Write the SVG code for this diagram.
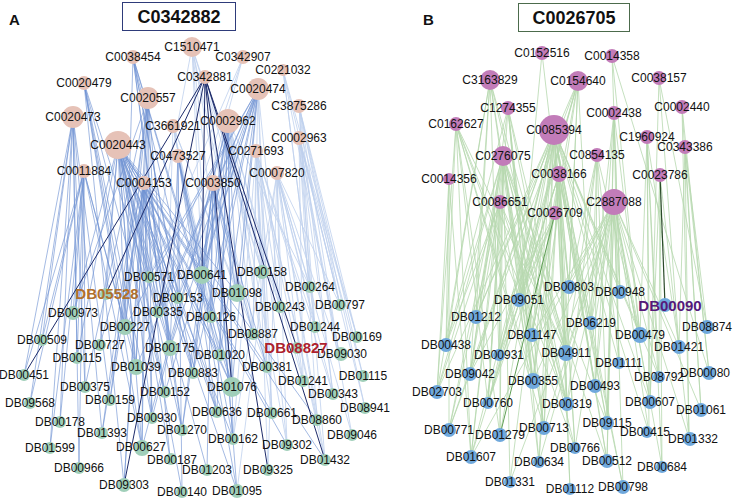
<svg xmlns="http://www.w3.org/2000/svg" width="736" height="501" viewBox="0 0 736 501">
<style>
text{font-family:"Liberation Sans",Arial,sans-serif;font-size:12px;fill:#111;text-anchor:middle}
.ca circle{fill:#e6c2b7}
.da circle{fill:#a0cfb9}
.cb circle{fill:#c27cb9}
.db circle{fill:#6fa8dc}
.em{font-weight:bold;font-size:15px}
.ttl{font-weight:bold;font-size:18px}
.pl{font-weight:bold;font-size:15px;text-anchor:start}
path{fill:none}
.e1{stroke:#bfd1ee;stroke-width:.8}
.e2{stroke:#6f93d3;stroke-width:.8;stroke-opacity:.8}
.e3{stroke:#1d2b6a;stroke-width:1}
.g1{stroke:#b6d8ae;stroke-width:.8}
.g2{stroke:#5f9e55;stroke-width:1}
.g3{stroke:#2b4a2a;stroke-width:1.2}
</style>
<rect width="736" height="501" fill="#fff"/>
<g id="labels">
<text class="pl" x="9" y="25">A</text>
<text class="pl" x="423" y="25">B</text>
<rect x="122.5" y="2.5" width="113" height="28" fill="#fff" stroke="#2e3b7a" stroke-width="1"/>
<text class="ttl" x="179" y="23">C0342882</text>
<rect x="518.5" y="3.5" width="111" height="28" fill="#fff" stroke="#4c6b4c" stroke-width="1"/>
<text class="ttl" x="574" y="24">C0026705</text>
</g>
<g id="connectors">
<path class="e1" d="M173 126L202 275M173 126L237 293M173 126L211 317M173 126L220 355M173 126L232 387M173 126L267 367M173 126L165 392"/>
<path class="e1" d="M192 47L202 275M192 47L237 293M192 47L262 272M192 47L211 317M192 47L253 334M192 47L232 387M192 47L280 307M192 47L149 277"/>
<path class="e1" d="M243 57L178 298M243 57L149 277M243 57L158 312"/>
<path class="e1" d="M283 70L310 287M283 70L340 305M283 70L315 327M283 70L339 353M283 70L357 337"/>
<path class="e1" d="M258 89L280 307M258 89L253 334M258 89L267 367M258 89L272 413"/>
<path class="e1" d="M228 121L262 272M228 121L272 413M228 121L267 367M228 121L253 334M228 121L280 307M228 121L310 287M228 121L303 381M228 121L287 445"/>
<path class="e1" d="M299 106L310 287M299 106L340 305M299 106L315 327M299 106L339 353M299 106L357 337M299 106L363 376M299 106L333 394M299 106L365 408"/>
<path class="e1" d="M299 138L340 305M299 138L339 353M299 138L357 337M299 138L363 376M299 138L365 408M299 138L352 435M299 138L333 394M299 138L303 381M299 138L317 420M299 138L325 460"/>
<path class="e1" d="M256 151L262 272M256 151L280 307M256 151L315 327M256 151L253 334M256 151L267 367M256 151L303 381M256 151L272 413M256 151L287 445M256 151L317 420M256 151L325 460M256 151L333 394M256 151L268 470M256 151L233 439"/>
<path class="e1" d="M277 173L310 287M277 173L280 307M277 173L315 327M277 173L340 305M277 173L339 353M277 173L303 381M277 173L333 394M277 173L317 420M277 173L352 435M277 173L325 460M277 173L287 445M277 173L268 470M277 173L233 439M277 173L237 491"/>
<path class="e1" d="M205 77L237 293M205 77L262 272"/>
<path class="e2" d="M73 117L24 375M73 117L30 403M73 117L42 340M73 117L77 358M73 117L85 387M73 117L60 422M73 117L50 448M73 117L110 400M73 117L102 433M73 117L79 468"/>
<path class="e2" d="M84 83L125 327M84 83L136 367M84 83L170 348M84 83L142 448M84 83L152 418M84 83L124 485M84 83L165 392"/>
<path class="e2" d="M133 57L178 298M133 57L170 348M133 57L220 355M133 57L193 373M133 57L232 387M133 57L217 412M133 57L182 430M133 57L125 327"/>
<path class="e2" d="M148 98L73 313M148 98L125 327M148 98L136 367M148 98L142 448M148 98L158 312M148 98L170 348M148 98L110 400M148 98L124 485M148 98L152 418M148 98L102 433M148 98L85 387"/>
<path class="e2" d="M118 145L106 294M118 145L73 313M118 145L125 327M118 145L100 345M118 145L77 358M118 145L136 367M118 145L158 312M118 145L178 298M118 145L170 348M118 145L220 355M118 145L193 373M118 145L232 387M118 145L165 392M118 145L152 418M118 145L142 448M118 145L217 412M118 145L272 413M118 145L233 439M118 145L287 445M118 145L182 430M118 145L170 458M118 145L207 470M118 145L325 460M118 145L317 420M118 145L267 367M118 145L237 293M118 145L202 275M118 145L149 277M118 145L237 491M118 145L182 492"/>
<path class="e2" d="M84 171L24 375M84 171L42 340M84 171L73 313M84 171L77 358M84 171L85 387M84 171L30 403M84 171L60 422M84 171L50 448M84 171L125 327M84 171L136 367M84 171L142 448M84 171L79 468"/>
<path class="e2" d="M144 183L149 277M144 183L125 327M144 183L136 367M144 183L170 348M144 183L142 448M144 183L152 418M144 183L110 400M144 183L124 485M144 183L170 458M144 183L182 430M144 183L193 373M144 183L232 387M144 183L217 412M144 183L100 345M144 183L102 433"/>
<path class="e2" d="M178 156L178 298M178 156L202 275M178 156L170 348M178 156L232 387M178 156L217 412M178 156L233 439M178 156L237 491M178 156L182 492"/>
<path class="e2" d="M213 183L202 275M213 183L237 293M213 183L211 317M213 183L232 387M213 183L233 439M213 183L207 470M213 183L237 491M213 183L193 373M213 183L267 367M213 183L253 334M213 183L182 430"/>
<path class="e2" d="M258 89L202 275M258 89L237 293M258 89L178 298M258 89L211 317M258 89L170 348M258 89L220 355M258 89L193 373M258 89L149 277M258 89L158 312M258 89L165 392M258 89L125 327M258 89L136 367M258 89L232 387"/>
<path class="e2" d="M228 121L202 275M228 121L237 293M228 121L211 317M228 121L220 355M228 121L193 373M228 121L232 387M228 121L217 412M228 121L233 439M228 121L182 430M228 121L152 418M228 121L142 448"/>
<path class="e3" d="M205 77L24 375M205 77L106 294M205 77L124 485M205 77L202 275M205 77L232 387M205 77L268 470M205 77L297 348M205 77L325 460"/>
<path class="g1" d="M542 53L519 300M542 53L569 287"/>
<path class="g1" d="M612 56L620 292M612 56L709 373M612 56L640 335"/>
<path class="g1" d="M490 80L446 345M490 80L476 317M490 80L470 374M490 80L499 355M490 80L566 353M490 80L533 381M490 80L567 404M490 80L544 428M490 80L437 392"/>
<path class="g1" d="M578 81L476 317M578 81L519 300M578 81L532 335M578 81L499 355M578 81L569 287M578 81L566 353M578 81L533 381M578 81L591 323M578 81L488 403M578 81L449 430"/>
<path class="g1" d="M659 78L650 402M659 78L679 347M659 78L707 327"/>
<path class="g1" d="M508 108L446 345M508 108L470 374M508 108L488 403M508 108L532 335M508 108L533 381M508 108L544 428M508 108L566 353M508 108L567 404M508 108L539 462"/>
<path class="g1" d="M682 107L689 438M682 107L701 410M682 107L709 373"/>
<path class="g1" d="M614 113L620 292M614 113L591 323M614 113L640 335M614 113L619 363M614 113L595 386M614 113L607 423M614 113L607 461"/>
<path class="g1" d="M456 124L437 392M456 124L446 345M456 124L488 403M456 124L500 435M456 124L533 381M456 124L566 353M456 124L567 404M456 124L544 428M456 124L575 448M456 124L471 457"/>
<path class="g1" d="M554 130L519 300M554 130L476 317M554 130L569 287M554 130L620 292M554 130L591 323M554 130L532 335M554 130L640 335M554 130L566 353M554 130L499 355M554 130L619 363M554 130L533 381M554 130L595 386M554 130L567 404M554 130L607 423M554 130L544 428M554 130L575 448M554 130L607 461M554 130L539 462M554 130L570 489M554 130L623 487M554 130L471 457M554 130L437 392M554 130L449 430M554 130L500 435M554 130L488 403M554 130L470 374M554 130L650 402M554 130L659 377M554 130L649 433M554 130L510 482"/>
<path class="g1" d="M647 137L640 335M647 137L679 347M647 137L659 377M647 137L650 402M647 137L649 433M647 137L662 467"/>
<path class="g1" d="M685 147L707 327M685 147L679 347M685 147L709 373M685 147L701 410M685 147L689 438"/>
<path class="g1" d="M503 156L476 317M503 156L446 345M503 156L470 374M503 156L437 392M503 156L449 430M503 156L488 403M503 156L500 435M503 156L471 457M503 156L499 355M503 156L532 335M503 156L533 381M503 156L566 353M503 156L567 404M503 156L544 428M503 156L539 462M503 156L510 482M503 156L575 448M503 156L607 461M503 156L607 423"/>
<path class="g1" d="M597 155L569 287M597 155L591 323M597 155L640 335M597 155L566 353M597 155L619 363M597 155L595 386M597 155L567 404M597 155L607 423"/>
<path class="g1" d="M559 174L519 300M559 174L569 287M559 174L532 335M559 174L566 353M559 174L533 381M559 174L595 386M559 174L567 404M559 174L544 428M559 174L575 448M559 174L607 461M559 174L607 423M559 174L570 489M559 174L539 462M559 174L623 487M559 174L471 457M559 174L488 403"/>
<path class="g1" d="M449 179L446 345M449 179L437 392M449 179L449 430M449 179L471 457"/>
<path class="g1" d="M660 175L659 377M660 175L650 402M660 175L662 467M660 175L689 438"/>
<path class="g1" d="M500 202L446 345M500 202L470 374M500 202L437 392M500 202L488 403M500 202L449 430M500 202L500 435M500 202L471 457M500 202L533 381M500 202L566 353M500 202L567 404"/>
<path class="g1" d="M614 202L569 287M614 202L620 292M614 202L591 323M614 202L532 335M614 202L640 335M614 202L679 347M614 202L566 353M614 202L619 363M614 202L659 377M614 202L533 381M614 202L595 386M614 202L567 404M614 202L650 402M614 202L607 423M614 202L649 433M614 202L544 428M614 202L575 448M614 202L607 461M614 202L623 487M614 202L662 467M614 202L701 410M614 202L689 438M614 202L471 457M614 202L510 482M614 202L539 462"/>
<path class="g1" d="M555 213L519 300M555 213L532 335M555 213L499 355M555 213L488 403M555 213L470 374"/>
<path class="g2" d="M555 213L500 435"/>
<path class="g3" d="M660 175L665 305"/>
</g>
<g id="nodesA">
<g id="C1510471" class="ca"><circle cx="192" cy="47" r="10"/><text x="192" y="51">C1510471</text></g>
<g id="C0038454" class="ca"><circle cx="133" cy="57" r="7"/><text x="133" y="61">C0038454</text></g>
<g id="C0342907" class="ca"><circle cx="243" cy="57" r="7"/><text x="243" y="61">C0342907</text></g>
<g id="C0221032" class="ca"><circle cx="283" cy="70" r="6"/><text x="283" y="74">C0221032</text></g>
<g id="C0342881" class="ca"><circle cx="205" cy="77" r="7"/><text x="205" y="81">C0342881</text></g>
<g id="C0020479" class="ca"><circle cx="84" cy="83" r="7"/><text x="84" y="87">C0020479</text></g>
<g id="C0020474" class="ca"><circle cx="258" cy="89" r="11"/><text x="258" y="93">C0020474</text></g>
<g id="C0020557" class="ca"><circle cx="148" cy="98" r="11"/><text x="148" y="102">C0020557</text></g>
<g id="C3875286" class="ca"><circle cx="299" cy="106" r="7"/><text x="299" y="110">C3875286</text></g>
<g id="C0020473" class="ca"><circle cx="73" cy="117" r="11"/><text x="73" y="121">C0020473</text></g>
<g id="C3661921" class="ca"><circle cx="173" cy="126" r="7"/><text x="173" y="130">C3661921</text></g>
<g id="C0002962" class="ca"><circle cx="228" cy="121" r="12"/><text x="228" y="125">C0002962</text></g>
<g id="C0002963" class="ca"><circle cx="299" cy="138" r="7"/><text x="299" y="142">C0002963</text></g>
<g id="C0020443" class="ca"><circle cx="118" cy="145" r="14"/><text x="118" y="149">C0020443</text></g>
<g id="C0271693" class="ca"><circle cx="256" cy="151" r="7"/><text x="256" y="155">C0271693</text></g>
<g id="C0473527" class="ca"><circle cx="178" cy="156" r="7"/><text x="178" y="160">C0473527</text></g>
<g id="C0011884" class="ca"><circle cx="84" cy="171" r="7"/><text x="84" y="175">C0011884</text></g>
<g id="C0007820" class="ca"><circle cx="277" cy="173" r="7"/><text x="277" y="177">C0007820</text></g>
<g id="C0004153" class="ca"><circle cx="144" cy="183" r="7"/><text x="144" y="187">C0004153</text></g>
<g id="C0003850" class="ca"><circle cx="213" cy="183" r="8"/><text x="213" y="187">C0003850</text></g>
<g id="DB00571" class="da"><circle cx="149" cy="277" r="6"/><text x="149" y="281">DB00571</text></g>
<g id="DB00641" class="da"><circle cx="202" cy="275" r="9"/><text x="202" y="279">DB00641</text></g>
<g id="DB00158" class="da"><circle cx="262" cy="272" r="7"/><text x="262" y="276">DB00158</text></g>
<g id="DB01098" class="da"><circle cx="237" cy="293" r="9"/><text x="237" y="297">DB01098</text></g>
<g id="DB00264" class="da"><circle cx="310" cy="287" r="6"/><text x="310" y="291">DB00264</text></g>
<g id="DB00153" class="da"><circle cx="178" cy="298" r="6"/><text x="178" y="302">DB00153</text></g>
<g id="DB00797" class="da"><circle cx="340" cy="305" r="6"/><text x="340" y="309">DB00797</text></g>
<g id="DB00243" class="da"><circle cx="280" cy="307" r="6"/><text x="280" y="311">DB00243</text></g>
<g id="DB00973" class="da"><circle cx="73" cy="313" r="7"/><text x="73" y="317">DB00973</text></g>
<g id="DB00335" class="da"><circle cx="158" cy="312" r="6"/><text x="158" y="316">DB00335</text></g>
<g id="DB00126" class="da"><circle cx="211" cy="317" r="6"/><text x="211" y="321">DB00126</text></g>
<g id="DB00227" class="da"><circle cx="125" cy="327" r="8"/><text x="125" y="331">DB00227</text></g>
<g id="DB01244" class="da"><circle cx="315" cy="327" r="6"/><text x="315" y="331">DB01244</text></g>
<g id="DB08887" class="da"><circle cx="253" cy="334" r="6"/><text x="253" y="338">DB08887</text></g>
<g id="DB00509" class="da"><circle cx="42" cy="340" r="6"/><text x="42" y="344">DB00509</text></g>
<g id="DB00727" class="da"><circle cx="100" cy="345" r="6"/><text x="100" y="349">DB00727</text></g>
<g id="DB00175" class="da"><circle cx="170" cy="348" r="8"/><text x="170" y="352">DB00175</text></g>
<g id="DB00169" class="da"><circle cx="357" cy="337" r="6"/><text x="357" y="341">DB00169</text></g>
<g id="DB01020" class="da"><circle cx="220" cy="355" r="6"/><text x="220" y="359">DB01020</text></g>
<g id="DB09030" class="da"><circle cx="341" cy="354" r="7"/><text x="342" y="358">DB09030</text></g>
<g id="DB00115" class="da"><circle cx="77" cy="358" r="6"/><text x="77" y="362">DB00115</text></g>
<g id="DB01039" class="da"><circle cx="136" cy="367" r="8"/><text x="136" y="371">DB01039</text></g>
<g id="DB00381" class="da"><circle cx="267" cy="367" r="6"/><text x="267" y="371">DB00381</text></g>
<g id="DB00451" class="da"><circle cx="24" cy="375" r="6"/><text x="24" y="379">DB00451</text></g>
<g id="DB00883" class="da"><circle cx="193" cy="373" r="6"/><text x="193" y="377">DB00883</text></g>
<g id="DB01115" class="da"><circle cx="363" cy="376" r="6"/><text x="363" y="380">DB01115</text></g>
<g id="DB01241" class="da"><circle cx="303" cy="381" r="6"/><text x="303" y="385">DB01241</text></g>
<g id="DB00375" class="da"><circle cx="85" cy="387" r="6"/><text x="85" y="391">DB00375</text></g>
<g id="DB01076" class="da"><circle cx="232" cy="387" r="10"/><text x="232" y="391">DB01076</text></g>
<g id="DB00152" class="da"><circle cx="165" cy="392" r="6"/><text x="165" y="396">DB00152</text></g>
<g id="DB00343" class="da"><circle cx="333" cy="394" r="6"/><text x="333" y="398">DB00343</text></g>
<g id="DB00159" class="da"><circle cx="110" cy="400" r="6"/><text x="110" y="404">DB00159</text></g>
<g id="DB09568" class="da"><circle cx="30" cy="403" r="6"/><text x="30" y="407">DB09568</text></g>
<g id="DB08941" class="da"><circle cx="365" cy="408" r="6"/><text x="365" y="412">DB08941</text></g>
<g id="DB00930" class="da"><circle cx="152" cy="418" r="6"/><text x="152" y="422">DB00930</text></g>
<g id="DB00636" class="da"><circle cx="217" cy="412" r="6"/><text x="217" y="416">DB00636</text></g>
<g id="DB00661" class="da"><circle cx="272" cy="413" r="6"/><text x="272" y="417">DB00661</text></g>
<g id="DB08860" class="da"><circle cx="317" cy="420" r="6"/><text x="317" y="424">DB08860</text></g>
<g id="DB00178" class="da"><circle cx="60" cy="422" r="6"/><text x="60" y="426">DB00178</text></g>
<g id="DB01270" class="da"><circle cx="182" cy="430" r="6"/><text x="182" y="434">DB01270</text></g>
<g id="DB01393" class="da"><circle cx="102" cy="433" r="6"/><text x="102" y="437">DB01393</text></g>
<g id="DB09046" class="da"><circle cx="352" cy="435" r="6"/><text x="352" y="439">DB09046</text></g>
<g id="DB00162" class="da"><circle cx="233" cy="439" r="6"/><text x="233" y="443">DB00162</text></g>
<g id="DB09302" class="da"><circle cx="287" cy="445" r="6"/><text x="287" y="449">DB09302</text></g>
<g id="DB00627" class="da"><circle cx="142" cy="448" r="8"/><text x="141" y="451">DB00627</text></g>
<g id="DB01599" class="da"><circle cx="50" cy="448" r="6"/><text x="50" y="452">DB01599</text></g>
<g id="DB00187" class="da"><circle cx="171" cy="459" r="6"/><text x="172" y="464">DB00187</text></g>
<g id="DB01432" class="da"><circle cx="325" cy="460" r="6"/><text x="325" y="464">DB01432</text></g>
<g id="DB00966" class="da"><circle cx="79" cy="468" r="6"/><text x="79" y="472">DB00966</text></g>
<g id="DB01203" class="da"><circle cx="207" cy="470" r="6"/><text x="207" y="474">DB01203</text></g>
<g id="DB09325" class="da"><circle cx="268" cy="470" r="6"/><text x="268" y="474">DB09325</text></g>
<g id="DB09303" class="da"><circle cx="124" cy="485" r="7"/><text x="124" y="489">DB09303</text></g>
<g id="DB00140" class="da"><circle cx="182" cy="492" r="6"/><text x="182" y="496">DB00140</text></g>
<g id="DB01095" class="da"><circle cx="237" cy="491" r="7"/><text x="237" y="495">DB01095</text></g>
<g id="DB05528" class="da"><circle cx="106" cy="294" r="6"/><text class="em" x="107" y="299" style="fill:#b06f2c">DB05528</text></g>
<g id="DB08827" class="da"><circle cx="297" cy="348" r="6"/><text class="em" x="296" y="353" style="fill:#ae1f2e">DB08827</text></g>
</g>
<g id="nodesB">
<g id="C0152516" class="cb"><circle cx="542" cy="53" r="7"/><text x="542" y="57">C0152516</text></g>
<g id="C0014358" class="cb"><circle cx="612" cy="56" r="7"/><text x="612" y="60">C0014358</text></g>
<g id="C3163829" class="cb"><circle cx="490" cy="80" r="10"/><text x="490" y="84">C3163829</text></g>
<g id="C0154640" class="cb"><circle cx="578" cy="81" r="10"/><text x="578" y="85">C0154640</text></g>
<g id="C0038157" class="cb"><circle cx="659" cy="78" r="7"/><text x="659" y="82">C0038157</text></g>
<g id="C1274355" class="cb"><circle cx="508" cy="108" r="7"/><text x="508" y="112">C1274355</text></g>
<g id="C0002440" class="cb"><circle cx="682" cy="107" r="7"/><text x="682" y="111">C0002440</text></g>
<g id="C0002438" class="cb"><circle cx="614" cy="113" r="7"/><text x="614" y="117">C0002438</text></g>
<g id="C0162627" class="cb"><circle cx="456" cy="124" r="7"/><text x="456" y="128">C0162627</text></g>
<g id="C0085394" class="cb"><circle cx="554" cy="130" r="15"/><text x="554" y="134">C0085394</text></g>
<g id="C1960924" class="cb"><circle cx="647" cy="137" r="7"/><text x="647" y="141">C1960924</text></g>
<g id="C0343386" class="cb"><circle cx="685" cy="147" r="7"/><text x="685" y="151">C0343386</text></g>
<g id="C0276075" class="cb"><circle cx="503" cy="156" r="10"/><text x="503" y="160">C0276075</text></g>
<g id="C0854135" class="cb"><circle cx="597" cy="155" r="7"/><text x="597" y="159">C0854135</text></g>
<g id="C0038166" class="cb"><circle cx="559" cy="174" r="8"/><text x="559" y="178">C0038166</text></g>
<g id="C0014356" class="cb"><circle cx="449" cy="179" r="6"/><text x="449" y="183">C0014356</text></g>
<g id="C0023786" class="cb"><circle cx="660" cy="175" r="7"/><text x="660" y="179">C0023786</text></g>
<g id="C0086651" class="cb"><circle cx="500" cy="202" r="7"/><text x="500" y="206">C0086651</text></g>
<g id="C2887088" class="cb"><circle cx="614" cy="202" r="13"/><text x="614" y="206">C2887088</text></g>
<g id="C0026709" class="cb"><circle cx="555" cy="213" r="7"/><text x="555" y="217">C0026709</text></g>
<g id="DB00803" class="db"><circle cx="569" cy="287" r="7"/><text x="569" y="291">DB00803</text></g>
<g id="DB00948" class="db"><circle cx="620" cy="292" r="7"/><text x="620" y="296">DB00948</text></g>
<g id="DB09051" class="db"><circle cx="519" cy="300" r="7"/><text x="519" y="304">DB09051</text></g>
<g id="DB01212" class="db"><circle cx="476" cy="317" r="7"/><text x="476" y="321">DB01212</text></g>
<g id="DB06219" class="db"><circle cx="591" cy="323" r="7"/><text x="591" y="327">DB06219</text></g>
<g id="DB08874" class="db"><circle cx="707" cy="327" r="7"/><text x="707" y="331">DB08874</text></g>
<g id="DB01147" class="db"><circle cx="532" cy="335" r="7"/><text x="532" y="339">DB01147</text></g>
<g id="DB00479" class="db"><circle cx="640" cy="335" r="8"/><text x="640" y="339">DB00479</text></g>
<g id="DB00438" class="db"><circle cx="446" cy="345" r="7"/><text x="446" y="349">DB00438</text></g>
<g id="DB01421" class="db"><circle cx="679" cy="347" r="7"/><text x="679" y="351">DB01421</text></g>
<g id="DB04911" class="db"><circle cx="566" cy="353" r="8"/><text x="566" y="357">DB04911</text></g>
<g id="DB00931" class="db"><circle cx="499" cy="355" r="6"/><text x="499" y="359">DB00931</text></g>
<g id="DB01111" class="db"><circle cx="619" cy="363" r="6"/><text x="619" y="367">DB01111</text></g>
<g id="DB09042" class="db"><circle cx="470" cy="374" r="7"/><text x="470" y="378">DB09042</text></g>
<g id="DB00080" class="db"><circle cx="709" cy="373" r="7"/><text x="705" y="377">DB00080</text></g>
<g id="DB08792" class="db"><circle cx="659" cy="377" r="6"/><text x="659" y="381">DB08792</text></g>
<g id="DB00355" class="db"><circle cx="533" cy="381" r="8"/><text x="533" y="385">DB00355</text></g>
<g id="DB00493" class="db"><circle cx="595" cy="386" r="7"/><text x="595" y="390">DB00493</text></g>
<g id="DB02703" class="db"><circle cx="437" cy="392" r="7"/><text x="437" y="396">DB02703</text></g>
<g id="DB00760" class="db"><circle cx="488" cy="403" r="6"/><text x="488" y="407">DB00760</text></g>
<g id="DB00319" class="db"><circle cx="567" cy="404" r="7"/><text x="567" y="408">DB00319</text></g>
<g id="DB00607" class="db"><circle cx="650" cy="402" r="7"/><text x="650" y="406">DB00607</text></g>
<g id="DB01061" class="db"><circle cx="701" cy="410" r="7"/><text x="701" y="414">DB01061</text></g>
<g id="DB09115" class="db"><circle cx="607" cy="423" r="7"/><text x="607" y="427">DB09115</text></g>
<g id="DB00771" class="db"><circle cx="449" cy="430" r="7"/><text x="449" y="434">DB00771</text></g>
<g id="DB00713" class="db"><circle cx="544" cy="428" r="7"/><text x="544" y="432">DB00713</text></g>
<g id="DB01279" class="db"><circle cx="500" cy="435" r="7"/><text x="500" y="439">DB01279</text></g>
<g id="DB00415" class="db"><circle cx="647" cy="432" r="6"/><text x="645" y="436">DB00415</text></g>
<g id="DB01332" class="db"><circle cx="690" cy="439" r="7"/><text x="693" y="443">DB01332</text></g>
<g id="DB00766" class="db"><circle cx="575" cy="448" r="6"/><text x="575" y="452">DB00766</text></g>
<g id="DB01607" class="db"><circle cx="471" cy="457" r="7"/><text x="471" y="461">DB01607</text></g>
<g id="DB00634" class="db"><circle cx="539" cy="462" r="6"/><text x="539" y="466">DB00634</text></g>
<g id="DB00512" class="db"><circle cx="607" cy="461" r="7"/><text x="607" y="465">DB00512</text></g>
<g id="DB00684" class="db"><circle cx="662" cy="467" r="6"/><text x="662" y="471">DB00684</text></g>
<g id="DB01331" class="db"><circle cx="510" cy="482" r="6"/><text x="510" y="486">DB01331</text></g>
<g id="DB01112" class="db"><circle cx="570" cy="489" r="6"/><text x="570" y="493">DB01112</text></g>
<g id="DB00798" class="db"><circle cx="623" cy="487" r="7"/><text x="623" y="491">DB00798</text></g>
<g id="DB00090" class="db"><circle cx="665" cy="305" r="7"/><text class="em" x="670" y="311" style="fill:#55197a">DB00090</text></g>
</g>
</svg>
